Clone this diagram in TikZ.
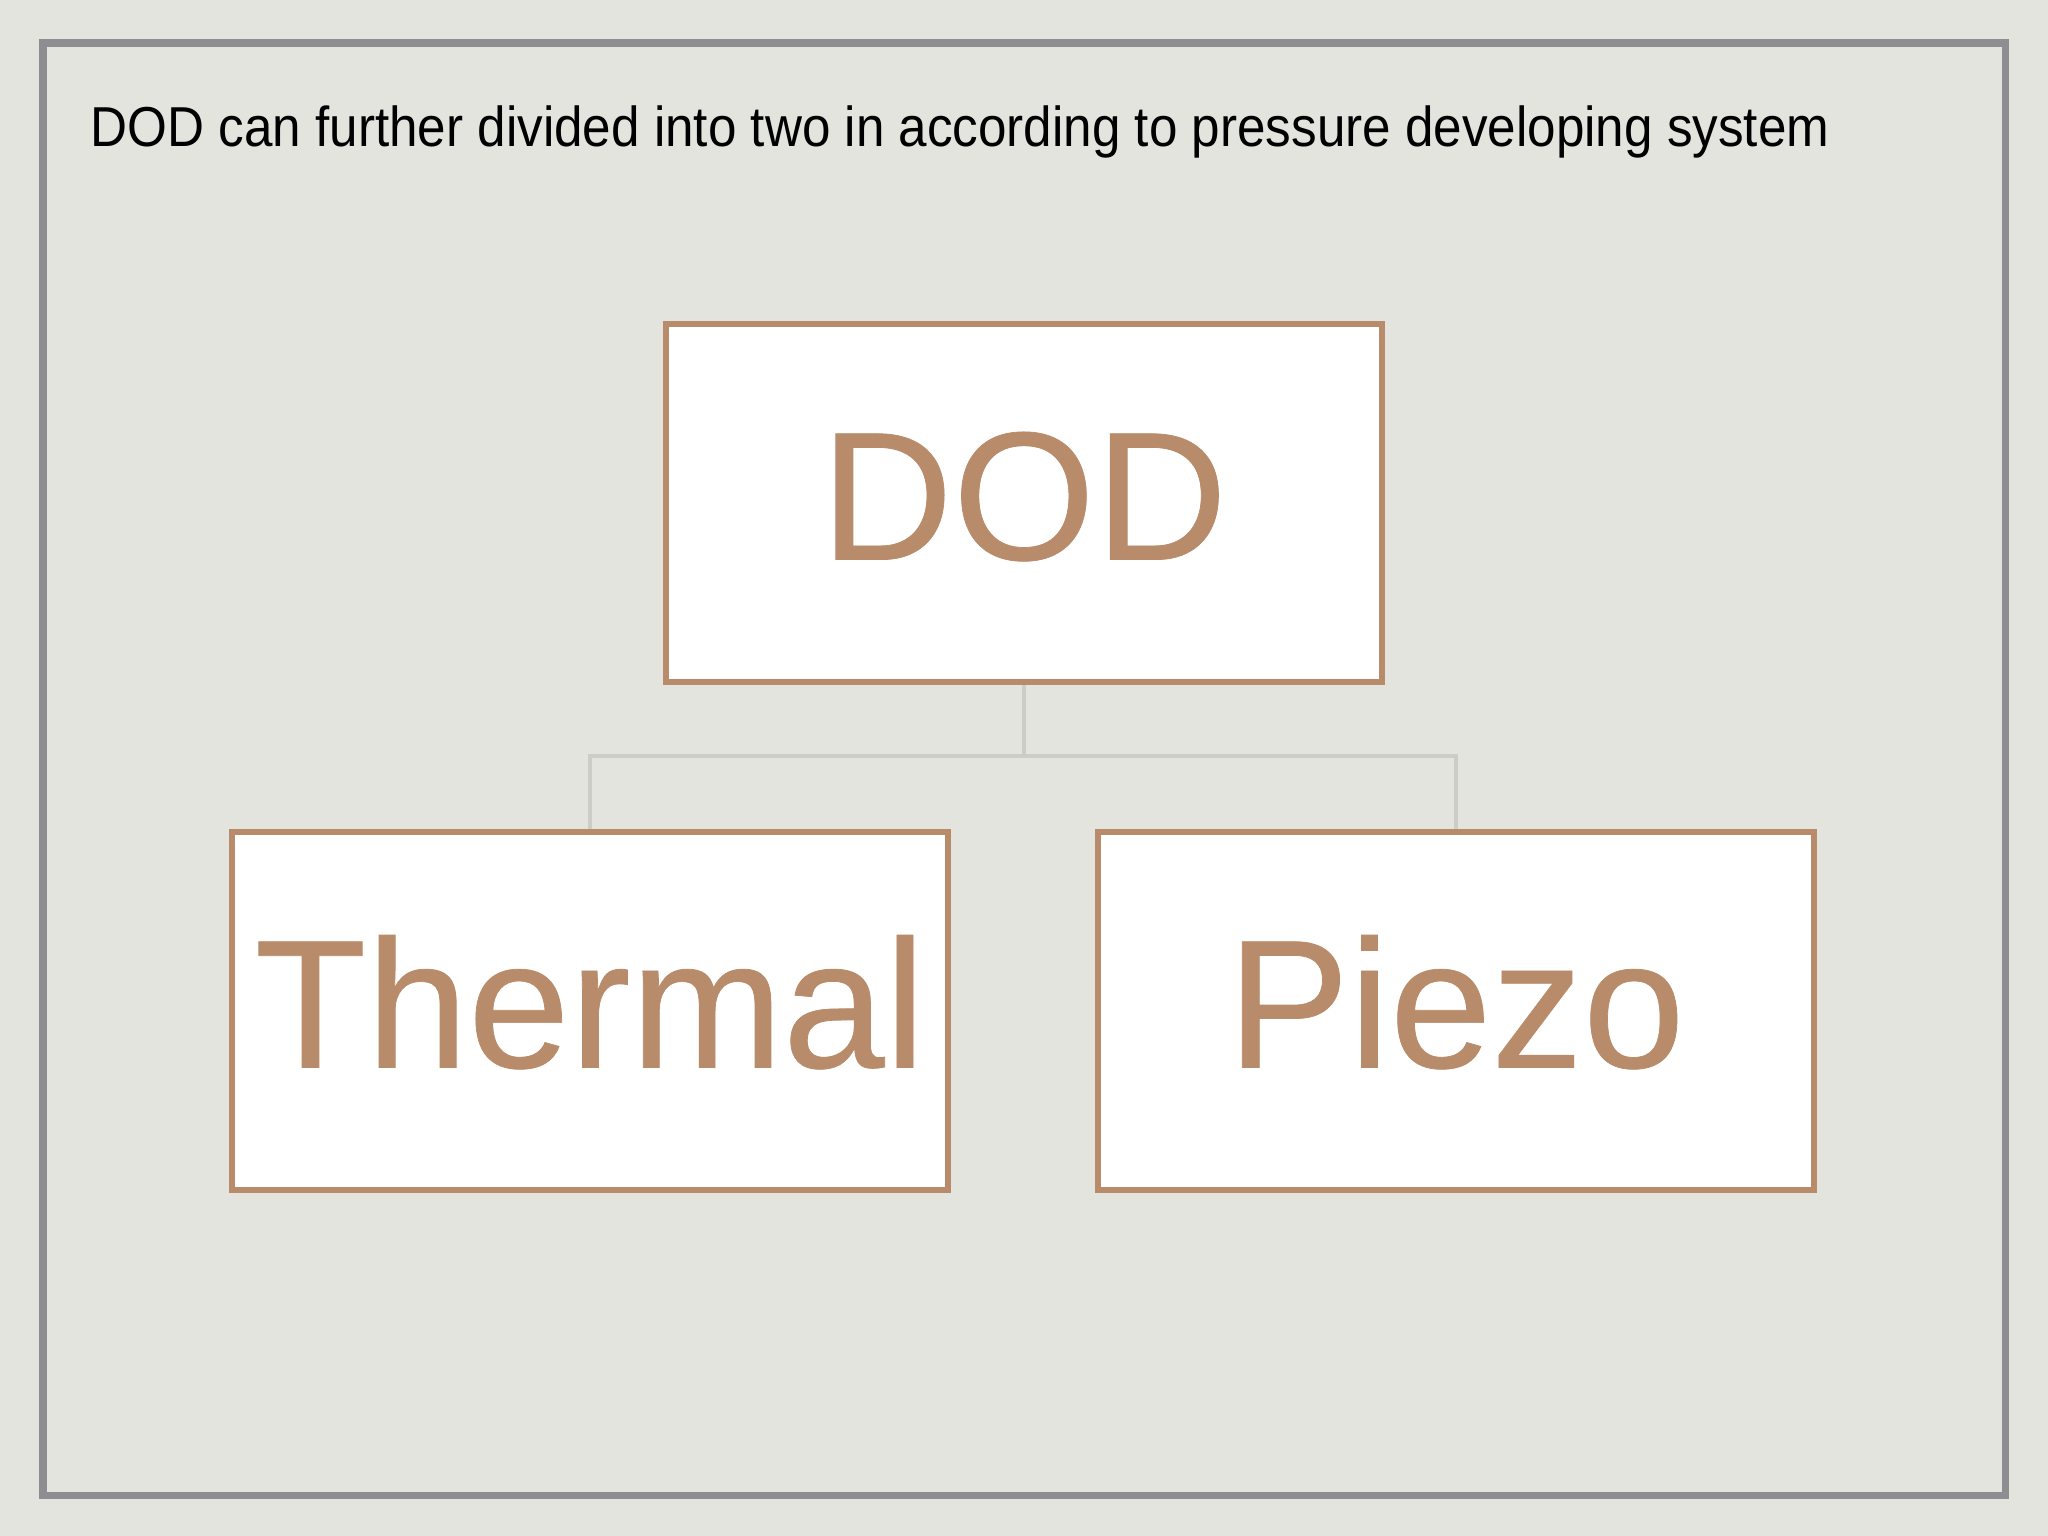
\documentclass[tikz,border=0pt]{standalone}
\usepackage{fontspec}
\setmainfont{Liberation Sans}
\newfontfamily\titlefont[FakeStretch=0.91]{Liberation Sans}
\newfontfamily\boxfont[FakeBold=0.4]{Liberation Sans}
\definecolor{paper}{RGB}{228,228,223}
\definecolor{frame}{RGB}{142,142,146}
\definecolor{tan}{RGB}{184,139,106}
\definecolor{link}{RGB}{204,204,200}
\tikzset{
  box/.style={draw=tan, line width=1.6pt, fill=white, minimum width=7.16cm,
    minimum height=3.58cm, text=tan, inner sep=0pt,
    font=\boxfont\fontsize{52}{60}\selectfont, text height=1.31cm, text depth=0.18cm},
  branch/.style={draw=link, line width=1.2pt}
}
\begin{document}
\begin{tikzpicture}[x=0.01cm,y=-0.01cm]
   \fill[paper] (0,0) rectangle (2048,1536);
   \useasboundingbox (0,0) rectangle (2048,1536);
   \draw[frame, line width=2pt] (43,43) rectangle (2005,1495);
   \node[anchor=base west, inner sep=0pt, font=\titlefont\fontsize{16}{19}\selectfont]
     (title) at (90,146) {DOD can further divided into two in according to pressure developing system};
   % tree
   \coordinate (fork) at (1024,756);
   \draw[branch] (1024,682) -- (fork);
   \draw[branch] (590,832) |- (fork) -| (1456,832);
   \node[box] (dod) at (1024,503) {DOD};
   \node[box] (thermal) at (590,1011) {Thermal};
   \node[box] (piezo) at (1456,1011) {Piezo};
 \end{tikzpicture}
\end{document}
